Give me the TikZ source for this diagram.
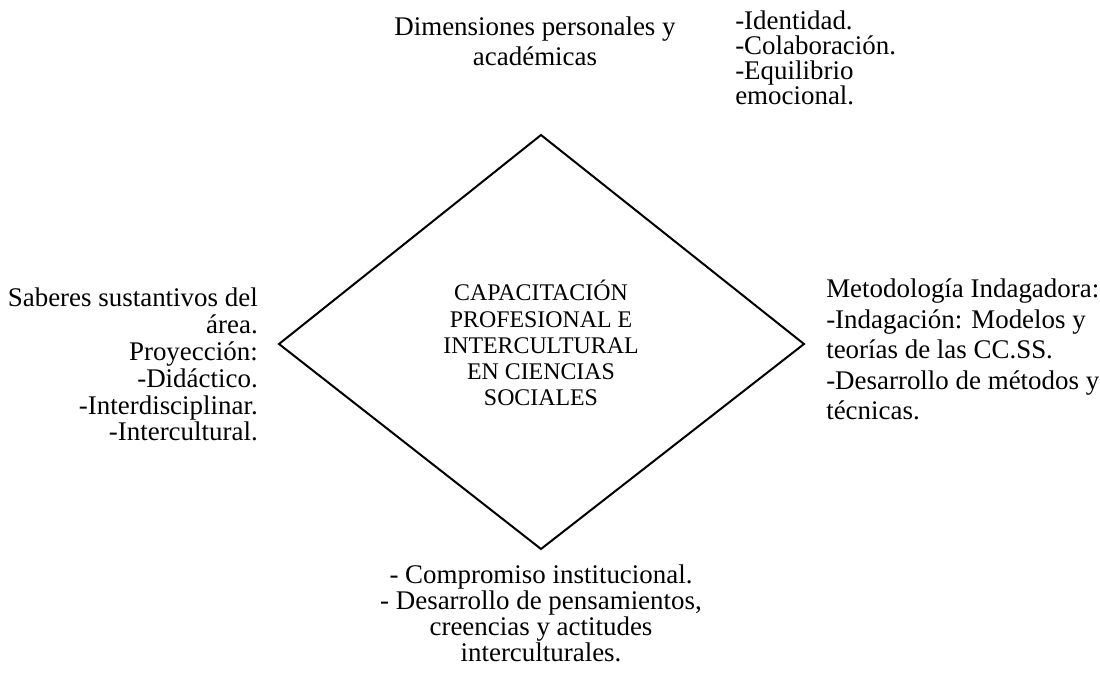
\documentclass[tikz,border=0pt]{standalone}
\usepackage{fontspec}
\setmainfont{Liberation Serif}
\begin{document}
\begin{tikzpicture}[x=0.75pt,y=-0.75pt,
  txt/.style={inner sep=0pt, font=\fontsize{20.2}{20.1}\selectfont},
  ctxt/.style={inner sep=0pt, font=\fontsize{17.9}{19.7}\selectfont, align=center},
  edge/.style={draw=black, line width=1.5pt, line join=miter}]
\useasboundingbox (0,0) rectangle (1100,680);
\coordinate (T) at (541,135);
\coordinate (L) at (279,344);
\coordinate (R) at (804,344);
\coordinate (B) at (541,549);
\draw[edge] (T) -- (R) -- (B) -- (L) -- cycle;
\node[ctxt, anchor=north] (center) at (541,280) {CAPACITACIÓN\\PROFESIONAL E\\INTERCULTURAL\\EN CIENCIAS\\SOCIALES};
\node[txt, anchor=north, align=center, font=\fontsize{20.2}{21.8}\selectfont] (top) at (535,17) {Dimensiones personales y\\académicas};
\node[txt, anchor=north west, align=left, font=\fontsize{20.2}{18.6}\selectfont] (topright) at (735,11) {-Identidad.\\-Colaboración.\\-Equilibrio\\emocional.};
\node[txt, anchor=north east, align=right] (left) at (258,288) {Saberes sustantivos del\\área.\\Proyección:\\-Didáctico.\\-Interdisciplinar.\\-Intercultural.};
\node[txt, anchor=north west, align=left, font=\fontsize{20.2}{22.8}\selectfont] (right) at (826,279) {Metodología Indagadora:\\-Indagación: Modelos y\\teorías de las CC.SS.\\-Desarrollo de métodos y\\técnicas.};
\node[txt, anchor=north, align=center, font=\fontsize{20.2}{19.5}\selectfont] (bottom) at (541,565) {- Compromiso institucional.\\- Desarrollo de pensamientos,\\creencias y actitudes\\interculturales.};
\end{tikzpicture}
\end{document}
